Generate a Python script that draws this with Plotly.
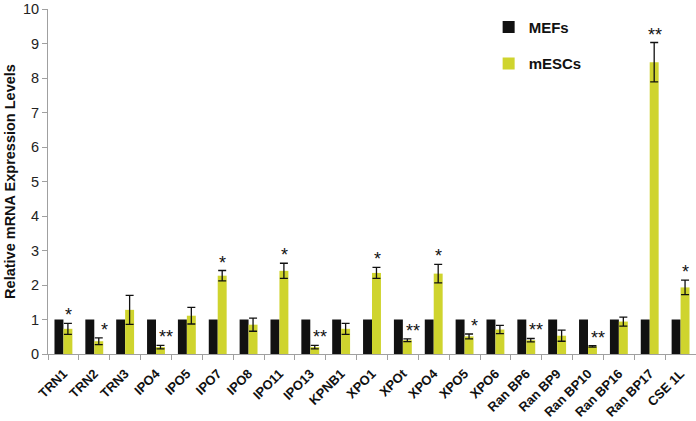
import plotly.graph_objects as go

genes = ["TRN1", "TRN2", "TRN3", "IPO4", "IPO5", "IPO7", "IPO8", "IPO11", "IPO13", "KPNB1",
         "XPO1", "XPOt", "XPO4", "XPO5", "XPO6", "Ran BP6", "Ran BP9", "Ran BP10",
         "Ran BP16", "Ran BP17", "CSE 1L"]
mefs = [1.0] * 21
mescs = [0.73, 0.37, 1.28, 0.20, 1.11, 2.27, 0.85, 2.41, 0.20, 0.73,
         2.35, 0.40, 2.33, 0.51, 0.71, 0.40, 0.53, 0.22, 0.94, 8.46, 1.93]
mescs_err = [0.16, 0.10, 0.42, 0.05, 0.24, 0.15, 0.19, 0.22, 0.05, 0.16,
             0.16, 0.04, 0.27, 0.07, 0.12, 0.05, 0.16, 0.02, 0.13, 0.57, 0.21]
signif = ["*", "*", "", "**", "", "*", "", "*", "**", "",
          "*", "**", "*", "*", "", "**", "", "**", "", "**", "*"]

FONT = "Liberation Sans, Arial, sans-serif"
BLACK = "#111111"
YELLOW = "#cfd42e"

fig = go.Figure()
fig.add_trace(go.Bar(x=genes, y=mefs, name="MEFs", marker_color=BLACK,
                     marker_line_width=0, legendgroup="a"))
fig.add_trace(go.Bar(x=genes, y=mescs, name="mESCs", marker_color=YELLOW,
                     marker_line_width=0, legendgroup="b",
                     error_y=dict(type="data", array=mescs_err, color="#111111",
                                  thickness=1.3, width=4)))

for g, v, e, s in zip(genes, mescs, mescs_err, signif):
    if not s:
        continue
    fig.add_annotation(x=g, y=v + e, text=s, showarrow=False,
                       xshift=5 + (5 if v < 0.6 else 0), yanchor="bottom", yshift=-4,
                       font=dict(family=FONT, size=18, color="#111111"))

fig.update_layout(
    width=696, height=421,
    margin=dict(l=48, r=0, t=9, b=67),
    paper_bgcolor="white", plot_bgcolor="white",
    barmode="group", bargap=0.42, bargroupgap=0,
    font=dict(family=FONT, color="#222222"),
    legend=dict(x=0.68, y=0.995, xanchor="left", yanchor="top",
                traceorder="grouped", tracegroupgap=14,
                font=dict(family=FONT, size=15, color="#111111", weight="bold"),
                itemwidth=30, bgcolor="rgba(0,0,0,0)"),
    showlegend=True,
)
fig.update_xaxes(
    showline=True, linecolor="#a0a0a0", linewidth=1,
    ticks="outside", tickson="boundaries", ticklen=5, tickcolor="#a0a0a0",
    tickangle=-45, automargin=False, ticklabelstandoff=6,
    tickfont=dict(family=FONT, size=13, color="#111111", weight="bold"),
)
fig.update_yaxes(
    range=[0, 10.001], tickvals=list(range(0, 11)), showgrid=False, zeroline=False,
    showline=True, linecolor="#a0a0a0", linewidth=1,
    ticks="outside", ticklen=5, tickcolor="#a0a0a0", automargin=False,
    ticklabeloverflow="allow",
    tickfont=dict(family=FONT, size=14.5, color="#222222"),
    title=dict(text="Relative mRNA Expression Levels", standoff=3,
               font=dict(family=FONT, size=14.5, color="#111111", weight="bold")),
)

fig.write_html("out.html", config={"displayModeBar": False},
               post_script="document.body.style.margin='0';document.body.style.padding='0';")
